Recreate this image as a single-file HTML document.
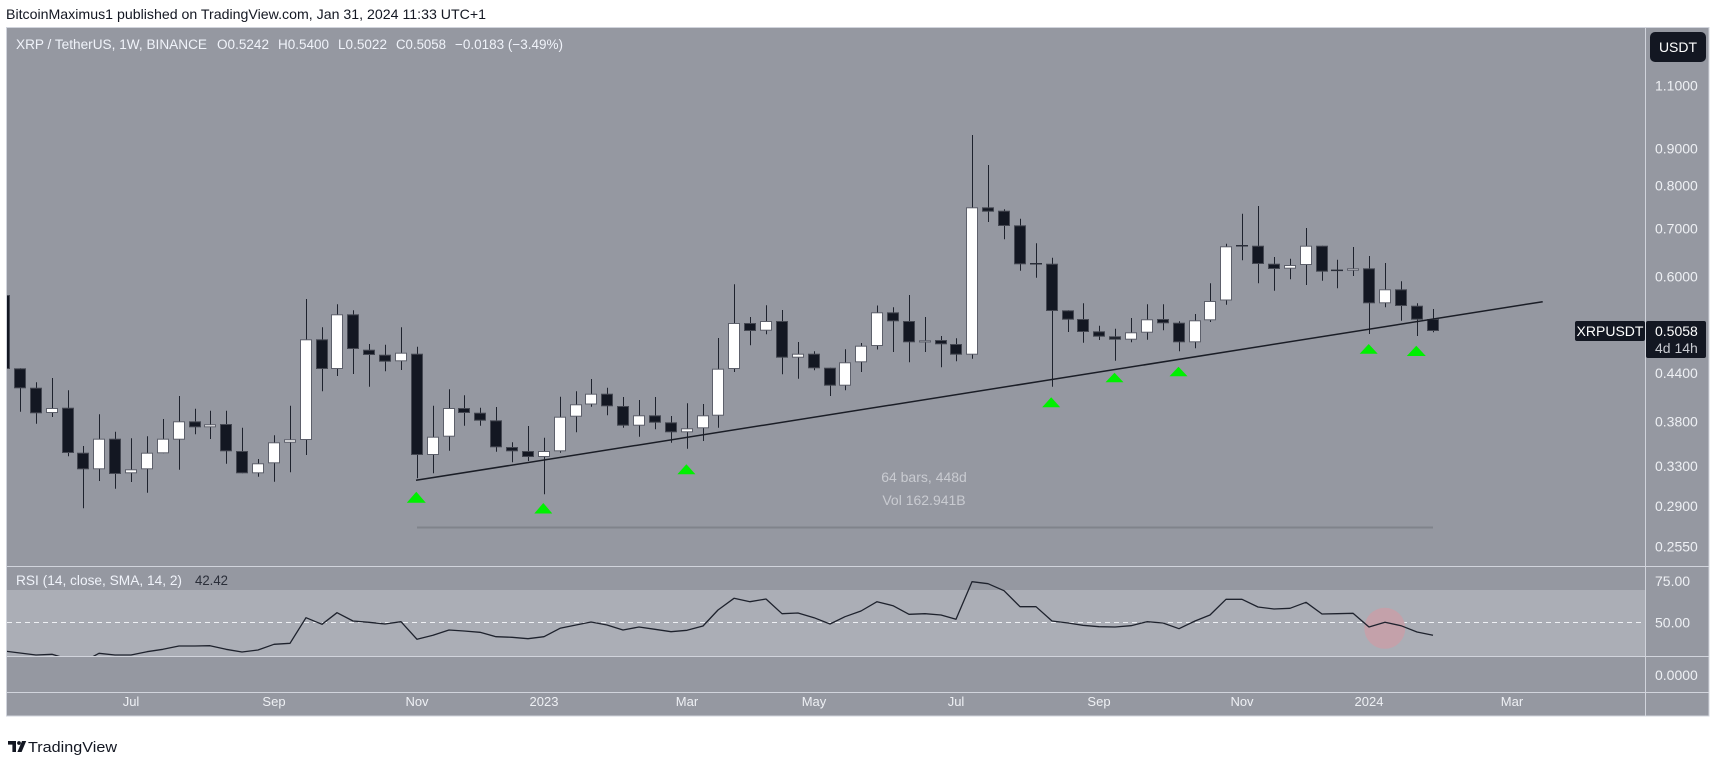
<!DOCTYPE html>
<html><head><meta charset="utf-8"><style>
html,body{margin:0;padding:0;background:#fff;}
svg{display:block;font-family:"Liberation Sans",sans-serif;}
</style></head><body>
<svg width="1721" height="764" viewBox="0 0 1721 764" xmlns="http://www.w3.org/2000/svg">
<defs>
<clipPath id="cp"><rect x="7" y="28" width="1638.5" height="538.5"/></clipPath>
<clipPath id="cr"><rect x="7" y="567" width="1638.5" height="89"/></clipPath>
</defs>
<rect width="1721" height="764" fill="#fff"/>
<text x="6" y="19" font-size="14" fill="#131722" textLength="480" lengthAdjust="spacingAndGlyphs">BitcoinMaximus1 published on TradingView.com, Jan 31, 2024 11:33 UTC+1</text>
<!-- frame -->
<rect x="6.5" y="27.5" width="1702.5" height="688.5" fill="#9598a1" stroke="#d1d4dc" stroke-width="1"/>
<!-- RSI band -->
<rect x="7" y="590" width="1638.5" height="66" fill="#abaeb6"/>
<line x1="7" y1="622.5" x2="1645" y2="622.5" stroke="#eef0f4" stroke-width="1" stroke-dasharray="5,4"/>
<!-- separators -->
<line x1="1645.5" y1="27" x2="1645.5" y2="716" stroke="#d1d4dc"/>
<line x1="6" y1="566.5" x2="1709" y2="566.5" stroke="#d1d4dc"/>
<line x1="6" y1="656.5" x2="1709" y2="656.5" stroke="#d1d4dc"/>
<line x1="6" y1="692.5" x2="1709" y2="692.5" stroke="#d1d4dc"/>

<!-- OHLC legend -->
<g font-size="13.5" fill="#f0f3fa">
<text x="16" y="49" textLength="191" lengthAdjust="spacingAndGlyphs">XRP / TetherUS, 1W, BINANCE</text>
<text x="217" y="49" textLength="52" lengthAdjust="spacingAndGlyphs">O0.5242</text>
<text x="278" y="49" textLength="51" lengthAdjust="spacingAndGlyphs">H0.5400</text>
<text x="338" y="49" textLength="49" lengthAdjust="spacingAndGlyphs">L0.5022</text>
<text x="396" y="49" textLength="50" lengthAdjust="spacingAndGlyphs">C0.5058</text>
<text x="455" y="49" textLength="108" lengthAdjust="spacingAndGlyphs">−0.0183 (−3.49%)</text>
</g>

<g clip-path="url(#cp)">
<!-- measure -->
<line x1="417" y1="527.5" x2="1433" y2="527.5" stroke="#80838b" stroke-width="2"/>
<text x="924" y="482" font-size="14" fill="#c9cbd1" text-anchor="middle">64 bars, 448d</text>
<text x="924" y="505" font-size="14" fill="#c9cbd1" text-anchor="middle">Vol 162.941B</text>
<!-- wicks -->
<path fill="none" stroke="#1e222d" stroke-width="1" d="M4.5 295V369M20.5 368.3V411.7M36.5 382.3V423.7M52.5 378V417M68.5 390.3V456.3M83.5 446V508.3M99.5 414.3V481M115.5 431.7V488.7M131.5 438.3V482M147.5 436.3V492.7M163.5 419V453.3M179.5 396V469.7M195.5 408.7V434.3M210.5 410.7V439M226.5 410.7V463.7M242.5 427.7V473.3M258.5 459V476.7M274.5 435.3V481.7M290.5 405.7V472.3M306.5 299V455M322.5 327.3V391.3M337.5 304.3V376M353.5 310.3V374M369.5 344V386.7M385.5 344.7V371.3M401.5 327.3V370M417.5 346.7V478.3M433.5 405.7V473.3M449.5 389.3V450.7M464.5 395.3V425.7M480.5 407.7V425.7M496.5 407V451.7M512.5 442.3V462.3M528.5 426V461M544.5 437.7V494.3M560.5 396.7V452.7M576.5 391.3V432.3M591.5 379V406.7M607.5 387.7V415.3M623.5 397V427.7M639.5 400V436.7M655.5 397V429.3M671.5 416V442.7M687.5 403.3V448.7M703.5 404V441M718.5 338V427.7M734.5 284.3V372M750.5 317V345.3M766.5 305.3V334.3M782.5 310V374.3M798.5 342V378.7M814.5 351.3V370.3M830.5 367.7V396M845.5 349.3V390.3M861.5 343V372M877.5 305.5V349.5M893.5 307.3V352M909.5 295V362.3M925.5 317V352M941.5 336V367.3M956.5 338.3V361.3M972.5 135V358.7M988.5 165V222M1004.5 209.3V239.3M1020.5 218.7V270.7M1036.5 243.3V277.7M1052.5 257.7V386.7M1068.5 310.3V332M1083.5 303.3V342.7M1099.5 325.7V340M1115.5 328.7V360.7M1131.5 318V342.3M1147.5 304.3V339.7M1163.5 304.3V330.3M1179.5 321.3V351.3M1195.5 314V348.3M1210.5 283.3V322M1226.5 243.7V304.7M1242.5 213.7V260.3M1258.5 206V283.3M1274.5 257V290.7M1290.5 258.7V279.3M1306.5 228V285M1322.5 245.7V280.7M1337.5 259.7V288.3M1353.5 247V276M1369.5 256V334M1385.5 263V307.3M1401.5 281.3V320.7M1417.5 303.3V336M1433.5 309V332.3"/>
<!-- dark bodies -->
<g fill="#131722" stroke="#454852" stroke-width="1">
<rect x="-1.5" y="295.5" width="11" height="73"/>
<rect x="14.5" y="368.8" width="11" height="19"/>
<rect x="30.5" y="388.2" width="11" height="24.6"/>
<rect x="62.5" y="408.2" width="11" height="44.3"/>
<rect x="77.5" y="453.2" width="11" height="15.6"/>
<rect x="109.5" y="439.2" width="11" height="34.3"/>
<rect x="189.5" y="421.8" width="11" height="5"/>
<rect x="220.5" y="424.5" width="11" height="26.3"/>
<rect x="236.5" y="451.5" width="11" height="21.3"/>
<rect x="316.5" y="339.8" width="11" height="28.7"/>
<rect x="347.5" y="314.8" width="11" height="33.7"/>
<rect x="363.5" y="350.2" width="11" height="4.3"/>
<rect x="379.5" y="355.2" width="11" height="6"/>
<rect x="411.5" y="354.2" width="11" height="100.3"/>
<rect x="458.5" y="408.5" width="11" height="4"/>
<rect x="474.5" y="413.2" width="11" height="7"/>
<rect x="490.5" y="420.8" width="11" height="26"/>
<rect x="506.5" y="447.5" width="11" height="3.3"/>
<rect x="522.5" y="451.5" width="11" height="5"/>
<rect x="601.5" y="394.2" width="11" height="11.6"/>
<rect x="617.5" y="406.5" width="11" height="18.7"/>
<rect x="649.5" y="415.8" width="11" height="6.4"/>
<rect x="665.5" y="422.8" width="11" height="9"/>
<rect x="744.5" y="323.5" width="11" height="7"/>
<rect x="776.5" y="321.5" width="11" height="35.7"/>
<rect x="808.5" y="354.2" width="11" height="13.6"/>
<rect x="824.5" y="368.2" width="11" height="17"/>
<rect x="887.5" y="312.8" width="11" height="8"/>
<rect x="903.5" y="321.5" width="11" height="20.3"/>
<rect x="935.5" y="340.5" width="11" height="3.3"/>
<rect x="950.5" y="344.5" width="11" height="9.7"/>
<rect x="982.5" y="207.8" width="11" height="3.4"/>
<rect x="998.5" y="211.2" width="11" height="14.3"/>
<rect x="1014.5" y="225.8" width="11" height="38"/>
<rect x="1046.5" y="264.2" width="11" height="46.3"/>
<rect x="1062.5" y="310.8" width="11" height="8.4"/>
<rect x="1077.5" y="319.5" width="11" height="12"/>
<rect x="1093.5" y="331.8" width="11" height="4.4"/>
<rect x="1109.5" y="336.8" width="11" height="2.4"/>
<rect x="1157.5" y="319.5" width="11" height="3.3"/>
<rect x="1173.5" y="323.2" width="11" height="18.6"/>
<rect x="1252.5" y="246.2" width="11" height="17.3"/>
<rect x="1268.5" y="264.2" width="11" height="4.3"/>
<rect x="1316.5" y="246.2" width="11" height="25"/>
<rect x="1363.5" y="268.8" width="11" height="34"/>
<rect x="1395.5" y="289.8" width="11" height="15.7"/>
<rect x="1411.5" y="306.2" width="11" height="13"/>
<rect x="1427.5" y="319.5" width="11" height="11"/>
</g>
<!-- doji -->
<g fill="#2a2e39">
<rect x="1030" y="263" width="12" height="1.5"/>
<rect x="1236" y="245" width="12" height="1.5"/>
<rect x="1331" y="269.6" width="12" height="1.5"/>
</g>
<!-- white bodies -->
<g fill="#ffffff" stroke="#5d606b" stroke-width="1">
<rect x="46.5" y="408.5" width="11" height="4"/>
<rect x="93.5" y="439.2" width="11" height="29.6"/>
<rect x="125.5" y="469.8" width="11" height="3"/>
<rect x="141.5" y="453.2" width="11" height="15.6"/>
<rect x="157.5" y="439.2" width="11" height="13.6"/>
<rect x="173.5" y="421.8" width="11" height="17.4"/>
<rect x="204.5" y="424.8" width="11" height="2"/>
<rect x="252.5" y="463.8" width="11" height="9"/>
<rect x="268.5" y="442.8" width="11" height="20"/>
<rect x="284.5" y="439.8" width="11" height="2.4"/>
<rect x="300.5" y="339.8" width="11" height="99.7"/>
<rect x="331.5" y="314.8" width="11" height="53.7"/>
<rect x="395.5" y="353.2" width="11" height="7.6"/>
<rect x="427.5" y="437.2" width="11" height="17.3"/>
<rect x="443.5" y="408.5" width="11" height="27.7"/>
<rect x="538.5" y="451.5" width="11" height="5"/>
<rect x="554.5" y="417.2" width="11" height="33.6"/>
<rect x="570.5" y="404.8" width="11" height="11.4"/>
<rect x="585.5" y="394.2" width="11" height="9.8"/>
<rect x="633.5" y="415.8" width="11" height="9.4"/>
<rect x="681.5" y="428.8" width="11" height="3"/>
<rect x="697.5" y="415.8" width="11" height="12"/>
<rect x="712.5" y="369.2" width="11" height="46"/>
<rect x="728.5" y="323.5" width="11" height="45"/>
<rect x="760.5" y="321.5" width="11" height="8.7"/>
<rect x="792.5" y="354.2" width="11" height="3"/>
<rect x="839.5" y="362.8" width="11" height="22.4"/>
<rect x="855.5" y="346.2" width="11" height="15.6"/>
<rect x="871.5" y="312.8" width="11" height="32.7"/>
<rect x="919.5" y="340.8" width="11" height="1.2"/>
<rect x="966.5" y="207.8" width="11" height="146.4"/>
<rect x="1125.5" y="332.8" width="11" height="6.4"/>
<rect x="1141.5" y="319.8" width="11" height="12.4"/>
<rect x="1189.5" y="320.8" width="11" height="21"/>
<rect x="1204.5" y="301.5" width="11" height="18.3"/>
<rect x="1220.5" y="246.8" width="11" height="53.2"/>
<rect x="1284.5" y="265.5" width="11" height="2.7"/>
<rect x="1300.5" y="246.2" width="11" height="18.3"/>
<rect x="1347.5" y="268.8" width="11" height="1.4"/>
<rect x="1379.5" y="289.8" width="11" height="13"/>
</g>
<!-- trendline -->
<line x1="416" y1="480.3" x2="1542.7" y2="301.7" stroke="#1a1d26" stroke-width="1.5"/>
<!-- green arrows -->
<g fill="#00f000">
<polygon points="416.3,491.7 425.8,502.7 406.8,502.7"/>
<polygon points="543.3,503 552.3,513.5 534.3,513.5"/>
<polygon points="686.4,464.3 695.4,474.3 677.4,474.3"/>
<polygon points="1051.2,397.3 1060.2,407.3 1042.2,407.3"/>
<polygon points="1114.5,372.7 1123.5,382.3 1105.5,382.3"/>
<polygon points="1178.5,366.7 1187.5,376.3 1169.5,376.3"/>
<polygon points="1368.7,344 1377.7,353.7 1359.7,353.7"/>
<polygon points="1416.3,345.7 1425.8,356 1406.8,356"/>
</g>
</g>

<!-- RSI -->
<text x="16" y="585" font-size="14" fill="#f0f3fa" textLength="166" lengthAdjust="spacingAndGlyphs">RSI (14, close, SMA, 14, 2)</text>
<text x="195" y="585" font-size="14" fill="#2a2e39" textLength="33" lengthAdjust="spacingAndGlyphs">42.42</text>
<g clip-path="url(#cr)">
<circle cx="1384.8" cy="628.3" r="20.5" fill="#c4a1aa"/>
<polyline fill="none" stroke="#1e222d" stroke-width="1.3" stroke-linejoin="round" points="4,651 20,653 36,655 52,654.3 68,659 83,662 99,653.3 115,655 131,655 147,651.7 163,649.3 179,646 195,646 210,645.7 226,649.3 242,652 258,650 274,644.3 290,643.3 306,617.7 322,624.3 337,612.7 353,621 369,622.3 385,624 401,621.7 417,639.3 433,635.3 449,630 464,631 480,632.3 496,636.7 512,637.3 528,638.7 544,636.7 560,628.3 576,625 591,622 607,625 623,630 639,627 655,629.3 671,631.7 687,630.3 703,626 718,610 734,598.3 750,601.7 766,599 782,613.7 798,613 814,617.7 830,624 845,616.7 861,611 877,601.7 893,605.7 909,614.3 925,613.7 941,615 956,619.3 972,581.7 988,583.7 1004,590.7 1020,606.7 1036,606.7 1052,621 1068,623 1083,625.3 1099,626.7 1115,627 1131,625.7 1147,621.7 1163,623 1179,628.7 1195,621 1210,615 1226,599.3 1242,599.3 1258,607 1274,609 1290,608.3 1306,602.3 1322,614 1337,613.7 1353,613.3 1369,627 1385,622.3 1401,625.7 1417,632 1433,635.3"/>
</g>

<!-- price axis -->
<rect x="1650" y="32" width="56" height="30" rx="5" fill="#131722"/>
<text x="1678" y="52" font-size="14" fill="#ffffff" text-anchor="middle">USDT</text>
<g font-size="14" fill="#eef0f4">
<text x="1655" y="90.7">1.1000</text>
<text x="1655" y="153.3">0.9000</text>
<text x="1655" y="190.7">0.8000</text>
<text x="1655" y="233.3">0.7000</text>
<text x="1655" y="281.7">0.6000</text>
<text x="1655" y="378">0.4400</text>
<text x="1655" y="426.3">0.3800</text>
<text x="1655" y="471">0.3300</text>
<text x="1655" y="511">0.2900</text>
<text x="1655" y="551.7">0.2550</text>
<text x="1655" y="586">75.00</text>
<text x="1655" y="627.3">50.00</text>
<text x="1655" y="680">0.0000</text>
</g>
<rect x="1575" y="321" width="70" height="20" rx="2" fill="#131722"/>
<text x="1610" y="336" font-size="14" fill="#ffffff" text-anchor="middle">XRPUSDT</text>
<rect x="1646" y="321" width="60" height="37" rx="2" fill="#131722"/>
<text x="1655" y="336" font-size="14" fill="#ffffff">0.5058</text>
<text x="1655" y="353" font-size="14" fill="#c8cad0">4d 14h</text>

<!-- time axis -->
<g font-size="13" fill="#eef0f4" text-anchor="middle">
<text x="131" y="706">Jul</text>
<text x="274" y="706">Sep</text>
<text x="417" y="706">Nov</text>
<text x="544" y="706">2023</text>
<text x="687" y="706">Mar</text>
<text x="814" y="706">May</text>
<text x="956" y="706">Jul</text>
<text x="1099" y="706">Sep</text>
<text x="1242" y="706">Nov</text>
<text x="1369" y="706">2024</text>
<text x="1512" y="706">Mar</text>
</g>

<!-- footer -->
<g fill="#131722">
<path d="M8 741h8v11h-3.6v-7.4H8z"/>
<circle cx="19" cy="743" r="1.9"/>
<path d="M22 741h4.2l-4.6 11h-4.2z"/>
</g>
<text x="28" y="752" font-size="15" fill="#131722" textLength="89" lengthAdjust="spacingAndGlyphs">TradingView</text>
</svg>
</body></html>
